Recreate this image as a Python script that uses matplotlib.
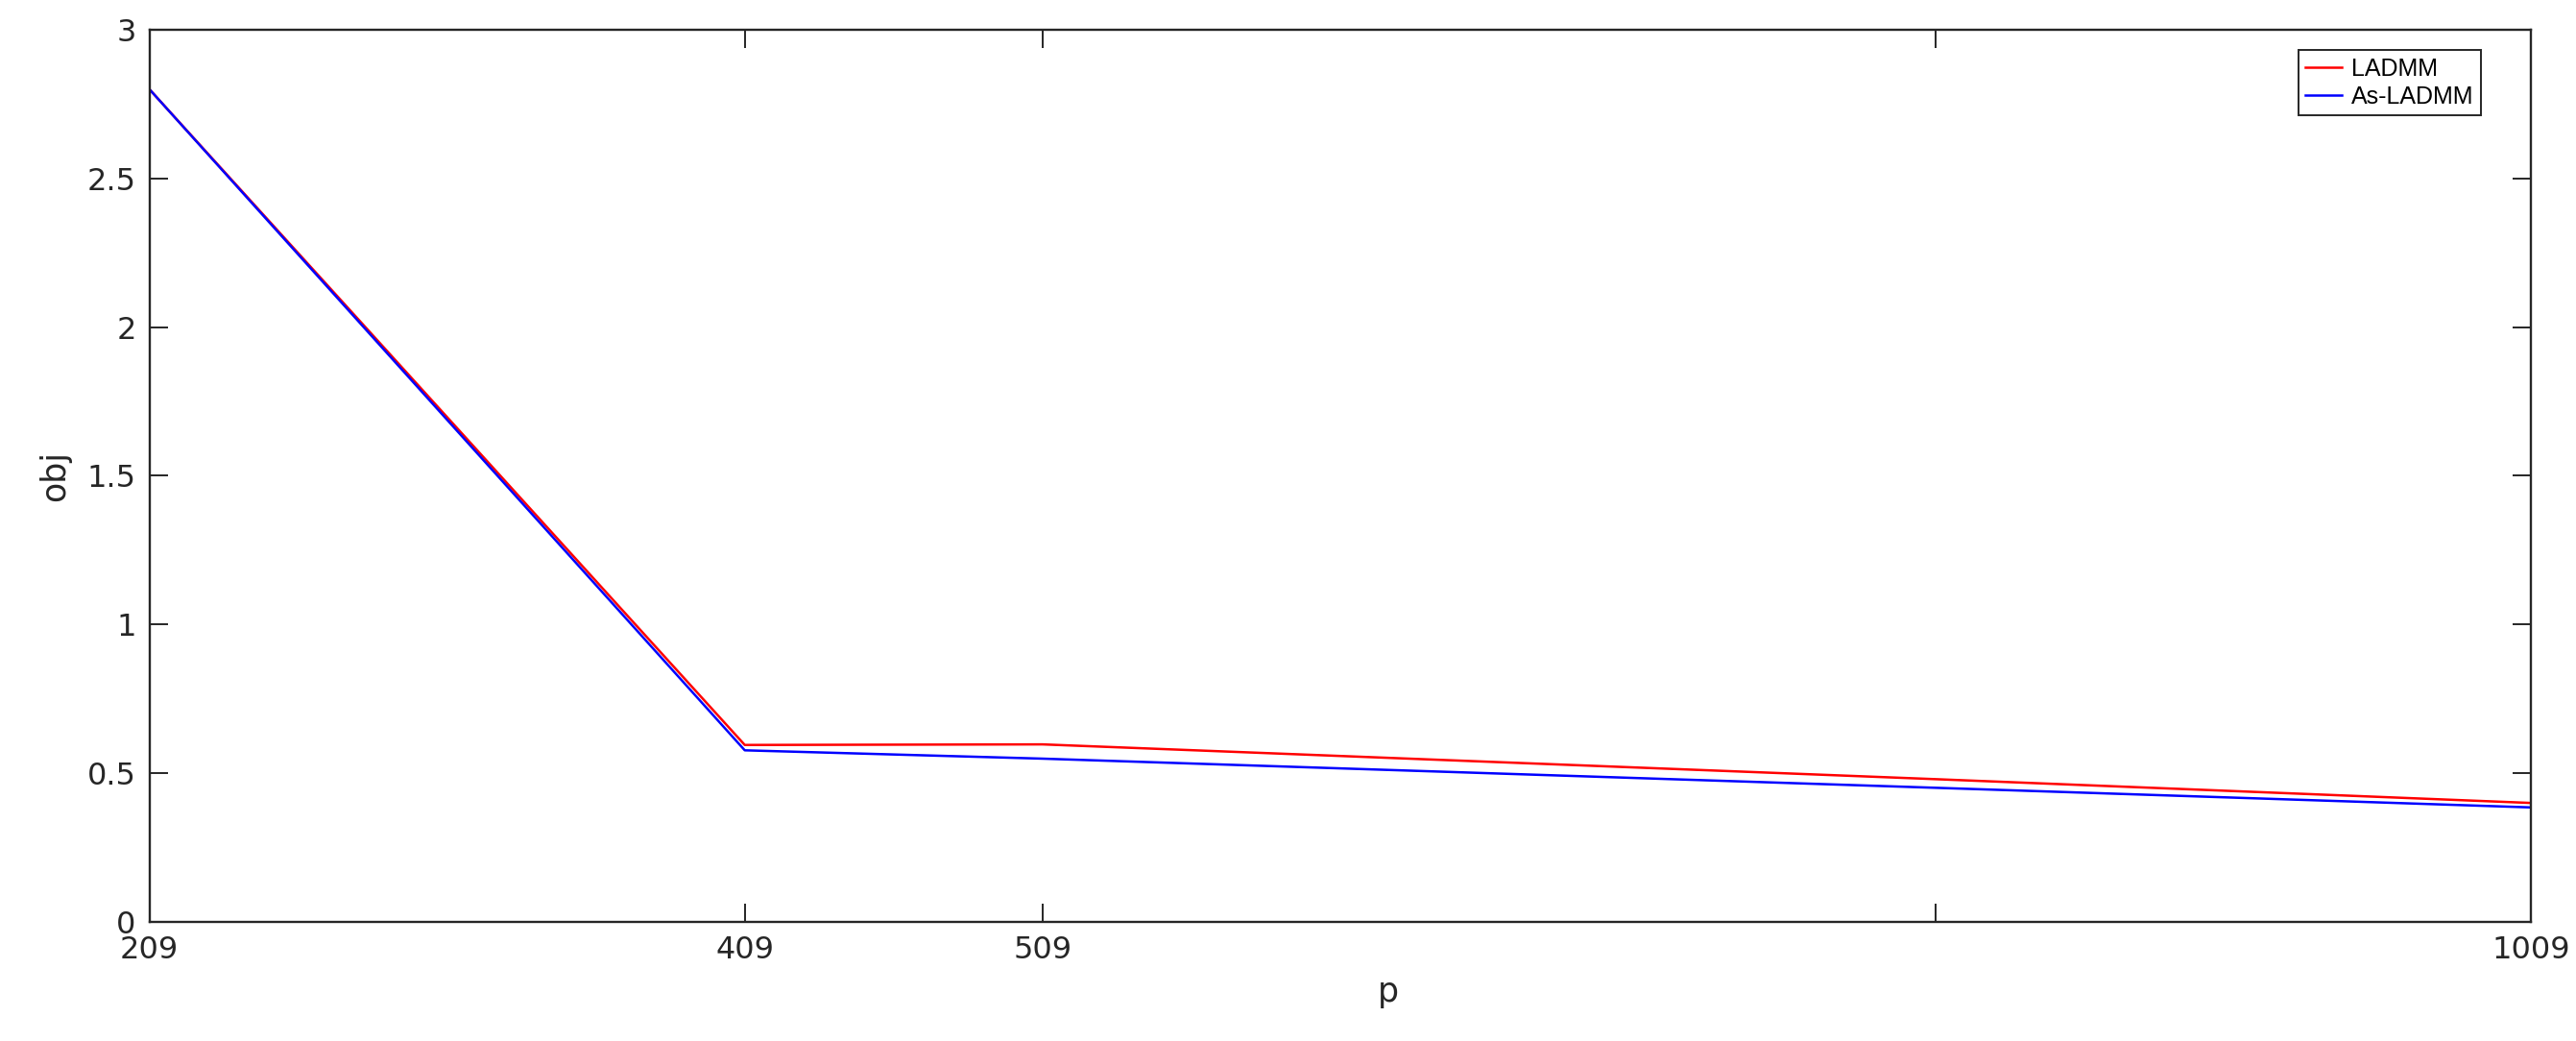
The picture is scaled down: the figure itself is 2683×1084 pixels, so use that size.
import matplotlib
matplotlib.use("Agg")
import matplotlib.pyplot as plt
from matplotlib.ticker import FormatStrFormatter

plt.rcParams['font.family'] = ['DejaVu Sans']

# data
p = [209, 409, 509, 809, 1009]
obj_ladmm = [2.80, 0.595, 0.597, 0.48, 0.400]
obj_as_ladmm = [2.80, 0.577, 0.549, 0.451, 0.385]
xtick_pos = [209, 409, 509, 809, 1009]
xtick_labels = ['209', '409', '509', '', '1009']
ytick_pos = [0, 0.5, 1, 1.5, 2, 2.5, 3]

fig = plt.figure(figsize=(26.83, 10.84), dpi=100)
ax = fig.add_axes([0.058, 0.1144, 0.9245, 0.857])

ax.plot(p, obj_ladmm, color='#ff0000', lw=1.8, label='LADMM')
ax.plot(p, obj_as_ladmm, color='#0000ff', lw=1.8, label='As-LADMM')

ax.set_xlim(209, 1009)
ax.set_ylim(0, 3)
ax.set_xticks(xtick_pos)
ax.set_xticklabels(xtick_labels)
ax.set_yticks(ytick_pos)
ax.yaxis.set_major_formatter(FormatStrFormatter('%g'))

ax.tick_params(direction='in', length=14, width=1.4, labelsize=23,
               top=True, right=True, colors='#262626')
ax.tick_params(axis='x', pad=10)
ax.tick_params(axis='y', pad=10)
for s in ax.spines.values():
    s.set_linewidth(1.7)
    s.set_color('#262626')

ax.set_xlabel('p', fontsize=25, color='#262626')
ax.set_ylabel('obj', fontsize=25, color='#262626')
ax.xaxis.set_label_coords(0.52, -0.06)
ax.yaxis.set_label_coords(-0.033, 0.5)

leg = ax.legend(loc='upper right', bbox_to_anchor=(0.979, 0.977),
                prop={'family': 'Liberation Sans', 'size': 18},
                fancybox=False, framealpha=1, edgecolor='#262626',
                handlelength=1.5, handletextpad=0.4, borderpad=0.3,
                labelspacing=0.2, borderaxespad=0)
leg.get_frame().set_linewidth(1.4)

fig.savefig('out.png', dpi=100)
